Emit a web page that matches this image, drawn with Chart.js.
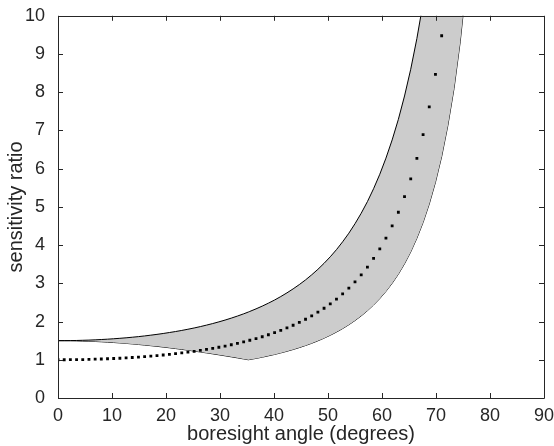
<!DOCTYPE html>
<html>
<head>
<meta charset="utf-8">
<script src="https://cdn.jsdelivr.net/npm/chart.js@4/dist/chart.umd.min.js"></script>
<style>
  html, body { margin: 0; padding: 0; background: #fff; }
  #wrap { width: 554px; height: 446px; }
</style>
</head>
<body>
<div id="wrap"><canvas id="chart" width="554" height="446"></canvas></div>
<script>
// boresight angles of the dotted series (degrees)
const dotAngles = [0, 1.15, 2.29, 3.44, 4.58, 5.73, 6.88, 8.02, 9.17, 10.31,
  11.46, 12.61, 13.75, 14.90, 16.04, 17.19, 18.33, 19.48, 20.63, 21.77,
  22.92, 24.06, 25.21, 26.36, 27.50, 28.65, 29.79, 30.94, 32.09, 33.23,
  34.38, 35.52, 36.67, 37.82, 38.96, 40.11, 41.25, 42.40, 43.54, 44.69,
  45.84, 46.98, 48.13, 49.27, 50.42, 51.57, 52.71, 53.86, 55.00, 56.15,
  57.30, 58.44, 59.59, 60.73, 61.88, 63.03, 64.17, 65.32, 66.46, 67.61,
  68.75, 69.90, 71.05];
// sensitivity ratio of the dotted series
const dotRatio = [1.000, 1.000, 1.002, 1.004, 1.006, 1.010, 1.015, 1.020, 1.026, 1.033,
  1.041, 1.050, 1.060, 1.071, 1.083, 1.096, 1.110, 1.125, 1.142, 1.160,
  1.179, 1.199, 1.222, 1.246, 1.271, 1.298, 1.328, 1.359, 1.393, 1.429,
  1.468, 1.510, 1.554, 1.602, 1.654, 1.709, 1.769, 1.834, 1.903, 1.979,
  2.060, 2.149, 2.245, 2.349, 2.463, 2.588, 2.725, 2.875, 3.040, 3.223,
  3.426, 3.651, 3.902, 4.184, 4.502, 4.860, 5.268, 5.734, 6.271, 6.892,
  7.616, 8.467, 9.477];

// shaded band: angles and its upper / lower edges
const bandAngles = [0, 1.15, 2.29, 3.44, 4.58, 5.73, 6.88, 8.02, 9.17, 10.31,
  11.46, 12.61, 13.75, 14.90, 16.04, 17.19, 18.33, 19.48, 20.63, 21.77,
  22.92, 24.06, 25.21, 26.36, 27.50, 28.65, 29.79, 30.94, 32.09, 33.23,
  34.38, 35.26, 35.52, 36.67, 37.82, 38.96, 40.11, 41.25, 42.40, 43.54, 44.69,
  45.84, 46.98, 48.13, 49.27, 50.42, 51.57, 52.71, 53.86, 55.00, 56.15,
  57.30, 58.44, 59.59, 60.73, 61.88, 63.03, 64.17, 65.32, 66.46, 67.61,
  68.75, 69.90, 71.05, 72.19, 73.34, 74.48, 75.63];
const bandUpper = [1.500, 1.501, 1.502, 1.505, 1.510, 1.515, 1.522, 1.530, 1.539, 1.550,
  1.562, 1.575, 1.590, 1.606, 1.624, 1.644, 1.665, 1.688, 1.713, 1.739,
  1.768, 1.799, 1.832, 1.868, 1.907, 1.948, 1.992, 2.039, 2.090, 2.144,
  2.202, 2.250, 2.265, 2.332, 2.404, 2.481, 2.564, 2.654, 2.751, 2.855, 2.968,
  3.090, 3.223, 3.367, 3.524, 3.695, 3.882, 4.087, 4.312, 4.560, 4.835,
  5.138, 5.476, 5.854, 6.276, 6.752, 7.291, 7.902, 8.602, 9.406, 10.34,
  11.42, 12.70, 14.22, 16.03, 18.23, 20.96, 24.43];
const bandLower = [1.500, 1.499, 1.498, 1.495, 1.490, 1.485, 1.479, 1.471, 1.462, 1.452,
  1.441, 1.429, 1.415, 1.401, 1.385, 1.369, 1.352, 1.333, 1.314, 1.294,
  1.273, 1.251, 1.228, 1.204, 1.180, 1.155, 1.130, 1.104, 1.077, 1.050,
  1.022, 1.000, 1.007, 1.036, 1.068, 1.103, 1.140, 1.180, 1.223, 1.269, 1.319,
  1.374, 1.432, 1.496, 1.566, 1.642, 1.725, 1.817, 1.917, 2.027, 2.149,
  2.284, 2.434, 2.602, 2.789, 3.001, 3.240, 3.512, 3.823, 4.181, 4.595,
  5.077, 5.645, 6.318, 7.125, 8.100, 9.317, 10.86];

const xTicks = [0, 10, 20, 30, 40, 50, 60, 70, 80, 90];
const yTicks = [0, 1, 2, 3, 4, 5, 6, 7, 8, 9, 10];

const axisColor = '#262626';
const fontFamily = '"Liberation Sans", Arial, Helvetica, sans-serif';

const toPoints = (xs, ys) => xs.map((x, i) => ({ x: x, y: ys[i] }));

// MATLAB style box with inward ticks on all four sides
const boxTicks = {
  id: 'boxTicks',
  afterDraw(chart) {
    const { ctx, chartArea: a, scales } = chart;
    const len = 5;
    ctx.save();
    ctx.strokeStyle = axisColor;
    ctx.lineWidth = 1;
    ctx.beginPath();
    ctx.rect(Math.round(a.left) + 0.5, Math.round(a.top) + 0.5,
      Math.round(a.right - a.left), Math.round(a.bottom - a.top));
    xTicks.forEach(v => {
      const px = Math.round(scales.x.getPixelForValue(v)) + 0.5;
      ctx.moveTo(px, a.bottom); ctx.lineTo(px, a.bottom - len);
      ctx.moveTo(px, a.top); ctx.lineTo(px, a.top + len);
    });
    yTicks.forEach(v => {
      const py = Math.round(scales.y.getPixelForValue(v)) + 0.5;
      ctx.moveTo(a.left, py); ctx.lineTo(a.left + len, py);
      ctx.moveTo(a.right, py); ctx.lineTo(a.right - len, py);
    });
    ctx.stroke();
    ctx.restore();
  }
};

new Chart(document.getElementById('chart'), {
  type: 'line',
  data: {
    datasets: [
      {
        label: 'lower',
        data: toPoints(bandAngles, bandLower),
        borderColor: '#000',
        borderWidth: 1,
        pointRadius: 0,
        fill: false,
        order: 2
      },
      {
        label: 'upper',
        data: toPoints(bandAngles, bandUpper),
        borderColor: '#000',
        borderWidth: 1,
        backgroundColor: '#cccccc',
        pointRadius: 0,
        fill: '-1',
        order: 1
      },
      {
        label: 'ratio',
        data: toPoints(dotAngles, dotRatio),
        showLine: false,
        pointStyle: 'rect',
        pointRadius: 2,
        pointBorderWidth: 0,
        pointBackgroundColor: '#000',
        order: 0
      }
    ]
  },
  options: {
    responsive: false,
    animation: false,
    layout: { padding: { top: 14, right: 10, left: 0, bottom: 0 } },
    plugins: {
      legend: { display: false },
      tooltip: { enabled: false }
    },
    scales: {
      x: {
        type: 'linear',
        min: 0,
        max: 90,
        afterFit: s => { s.height = 48; },
        afterBuildTicks: s => { s.ticks = xTicks.map(v => ({ value: v })); },
        grid: { display: false },
        border: { display: false },
        ticks: {
          color: axisColor,
          padding: -1,
          font: { family: fontFamily, size: 18 }
        },
        title: {
          display: true,
          text: 'boresight angle (degrees)',
          color: axisColor,
          padding: { top: 0, bottom: 0 },
          font: { family: fontFamily, size: 20 }
        }
      },
      y: {
        min: 0,
        max: 10,
        afterFit: s => { s.width = 58; },
        afterBuildTicks: s => { s.ticks = yTicks.map(v => ({ value: v })); },
        grid: { display: false },
        border: { display: false },
        ticks: {
          color: axisColor,
          padding: 5,
          font: { family: fontFamily, size: 18 }
        },
        title: {
          display: true,
          text: 'sensitivity ratio',
          color: axisColor,
          padding: { top: 4, bottom: 0 },
          font: { family: fontFamily, size: 20 }
        }
      }
    }
  },
  plugins: [boxTicks]
});
</script>
</body>
</html>
